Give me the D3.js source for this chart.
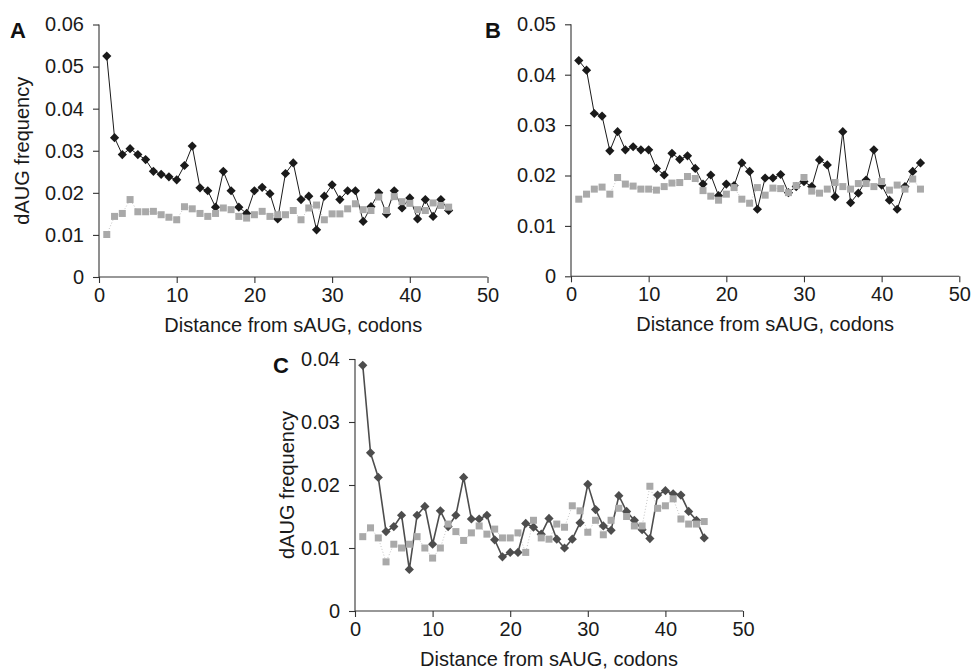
<!DOCTYPE html>
<html>
<head>
<meta charset="utf-8">
<script src="https://cdn.jsdelivr.net/npm/d3@7"></script>
<style>
  html, body { margin: 0; padding: 0; background: #fff; }
  svg { display: block; }
  text { font-family: "Liberation Sans", Arial, Helvetica, sans-serif; }
</style>
</head>
<body>
<svg id="chart" width="973" height="672"></svg>
<script>
// ---------- DATA ----------
const codons = [1,2,3,4,5,6,7,8,9,10,11,12,13,14,15,16,17,18,19,20,21,22,23,24,25,26,27,28,29,30,31,32,33,34,35,36,37,38,39,40,41,42,43,44,45];
const xTicks = [0, 10, 20, 30, 40, 50];

const yTicksA = [0, 0.01, 0.02, 0.03, 0.04, 0.05, 0.06];
const yTicksB = [0, 0.01, 0.02, 0.03, 0.04, 0.05];
const yTicksC = [0, 0.01, 0.02, 0.03, 0.04];

const panelA_dark = [0.0525,0.0331,0.0291,0.0305,0.0291,0.0279,0.0251,0.0244,0.0238,0.0231,
  0.0265,0.0311,0.0212,0.0205,0.0166,0.0251,0.0205,0.0166,0.0151,0.0205,
  0.0213,0.0198,0.0138,0.0246,0.0271,0.0184,0.0192,0.0112,0.0192,0.0219,
  0.0184,0.0205,0.0205,0.0132,0.0167,0.0200,0.0150,0.0205,0.0164,0.0188,
  0.0138,0.0184,0.0144,0.0184,0.0158];
const panelA_gray = [0.0101,0.0144,0.0151,0.0184,0.0155,0.0155,0.0156,0.0148,0.0142,0.0136,
  0.0167,0.0162,0.0151,0.0144,0.0151,0.0164,0.0160,0.0144,0.0140,0.0148,
  0.0156,0.0144,0.0148,0.0148,0.0158,0.0136,0.0164,0.0171,0.0136,0.0150,
  0.0150,0.0162,0.0174,0.0160,0.0158,0.0190,0.0158,0.0191,0.0179,0.0175,
  0.0160,0.0158,0.0176,0.0170,0.0166];

const panelB_dark = [0.0428,0.0409,0.0323,0.0318,0.0249,0.0287,0.0251,0.0257,0.0251,0.0251,
  0.0214,0.0201,0.0244,0.0232,0.0239,0.0214,0.0183,0.0201,0.0160,0.0183,
  0.0180,0.0225,0.0208,0.0133,0.0195,0.0195,0.0202,0.0166,0.0178,0.0188,
  0.0178,0.0231,0.0221,0.0158,0.0287,0.0146,0.0165,0.0191,0.0251,0.0181,
  0.0151,0.0133,0.0178,0.0208,0.0225];
const panelB_gray = [0.0153,0.0163,0.0173,0.0177,0.0163,0.0196,0.0183,0.0179,0.0173,0.0173,
  0.0171,0.0178,0.0185,0.0186,0.0198,0.0194,0.0170,0.0159,0.0151,0.0163,
  0.0176,0.0153,0.0145,0.0176,0.0161,0.0175,0.0174,0.0166,0.0180,0.0196,
  0.0169,0.0165,0.0173,0.0186,0.0178,0.0173,0.0184,0.0184,0.0178,0.0188,
  0.0171,0.0181,0.0173,0.0193,0.0173];

const panelC_dark = [0.0390,0.0251,0.0212,0.0126,0.0134,0.0152,0.0066,0.0152,0.0166,0.0106,
  0.0159,0.0134,0.0152,0.0212,0.0146,0.0146,0.0152,0.0113,0.0086,0.0093,
  0.0093,0.0139,0.0133,0.0122,0.0147,0.0114,0.0100,0.0114,0.0140,0.0201,
  0.0161,0.0135,0.0128,0.0183,0.0158,0.0144,0.0129,0.0115,0.0184,0.0191,
  0.0186,0.0184,0.0158,0.0144,0.0116];
const panelC_gray = [0.0118,0.0132,0.0116,0.0078,0.0106,0.0100,0.0106,0.0118,0.0100,0.0084,
  0.0100,0.0138,0.0126,0.0112,0.0124,0.0135,0.0122,0.0130,0.0116,0.0116,
  0.0124,0.0093,0.0144,0.0116,0.0114,0.0138,0.0133,0.0167,0.0159,0.0125,
  0.0144,0.0121,0.0144,0.0163,0.0150,0.0135,0.0135,0.0198,0.0163,0.0167,
  0.0178,0.0146,0.0138,0.0138,0.0142];

const panelLetters = ["A", "B", "C"];
const yTitle = "dAUG frequency";
const xTitle = "Distance from sAUG, codons";

// ---------- LAYOUT ----------
const svg = d3.select("#chart");
const FS = 20;

const panels = [
  { letter: panelLetters[0], left: 99, top: 24.5, width: 388.5, height: 252.5, yTicks: yTicksA,
    dark: panelA_dark, gray: panelA_gray, darkColor: "#1a1a1a", darkWidth: 1, yTitleOffset: 77, letterX: 10, letterY: 38 },
  { letter: panelLetters[1], left: 571, top: 24.3, width: 388.3, height: 252, yTicks: yTicksB,
    dark: panelB_dark, gray: panelB_gray, darkColor: "#1a1a1a", darkWidth: 1, yTitleOffset: null, letterX: 485, letterY: 38 },
  { letter: panelLetters[2], left: 355, top: 359, width: 388, height: 252, yTicks: yTicksC,
    dark: panelC_dark, gray: panelC_gray, darkColor: "#4d4d4d", darkWidth: 1.6, yTitleOffset: 68, letterX: 273, letterY: 373 }
];

const grayColor = "#a9a9a9";

panels.forEach(p => {
  const yMax = p.yTicks[p.yTicks.length - 1];
  const x = d3.scaleLinear().domain([0, 50]).range([p.left, p.left + p.width]);
  const y = d3.scaleLinear().domain([0, yMax]).range([p.top + p.height, p.top]);

  const g = svg.append("g");

  const fmt = d => d === 0 ? "0" : d3.format(".2f")(d);
  const yAxis = g.append("g")
    .attr("transform", `translate(${p.left},0)`)
    .call(d3.axisLeft(y).tickValues(p.yTicks).tickFormat(fmt).tickSize(6).tickPadding(9));
  const xAxis = g.append("g")
    .attr("transform", `translate(0,${p.top + p.height})`)
    .call(d3.axisBottom(x).tickValues(xTicks).tickFormat(d3.format("d")).tickSize(6).tickPadding(5));
  [yAxis, xAxis].forEach(a => {
    a.select(".domain").attr("stroke", "#333").attr("stroke-width", 1.1);
    a.selectAll(".tick line").attr("stroke", "#333").attr("stroke-width", 1.1);
    a.selectAll(".tick text").attr("fill", "#1a1a1a").style("font-size", FS + "px")
      .style("font-family", '"Liberation Sans", Arial, sans-serif');
  });
  yAxis.select(".domain").attr("d", `M0,${p.top}V${p.top + p.height}`);
  xAxis.select(".domain").attr("d", `M${p.left},0H${p.left + p.width}`);

  g.append("text")
    .attr("x", p.left + p.width / 2)
    .attr("y", p.top + p.height + 55)
    .attr("text-anchor", "middle")
    .attr("fill", "#1a1a1a")
    .style("font-size", FS + "px")
    .text(xTitle);
  if (p.yTitleOffset !== null) {
    g.append("text")
      .attr("transform", `translate(${p.left - p.yTitleOffset},${p.top + p.height / 2}) rotate(-90)`)
      .attr("text-anchor", "middle")
      .attr("dy", "0.35em")
      .attr("fill", "#1a1a1a")
      .style("font-size", FS + "px")
      .text(yTitle);
  }
  g.append("text")
    .attr("x", p.letterX).attr("y", p.letterY)
    .attr("fill", "#111")
    .style("font-size", "22px").style("font-weight", "bold")
    .text(p.letter);

  const darkPts = codons.map((c, i) => [c, p.dark[i]]);
  const grayPts = codons.map((c, i) => [c, p.gray[i]]);
  const line = d3.line().x(d => x(d[0])).y(d => y(d[1]));

  g.append("path").attr("d", line(grayPts))
    .attr("fill", "none").attr("stroke", "#c4c4c4").attr("stroke-width", 1)
    .attr("stroke-dasharray", "1,2");
  g.append("path").attr("d", line(darkPts))
    .attr("fill", "none").attr("stroke", p.darkColor).attr("stroke-width", p.darkWidth);
  const r = 4.6;
  g.selectAll(null).data(darkPts).join("path")
    .attr("d", `M0,${-r}L${r},0L0,${r}L${-r},0Z`)
    .attr("transform", d => `translate(${x(d[0])},${y(d[1])})`)
    .attr("fill", p.darkColor);
  const s = 7;
  g.selectAll(null).data(grayPts).join("rect")
    .attr("x", d => x(d[0]) - s / 2).attr("y", d => y(d[1]) - s / 2)
    .attr("width", s).attr("height", s)
    .attr("fill", grayColor);
});
</script>
</body>
</html>
